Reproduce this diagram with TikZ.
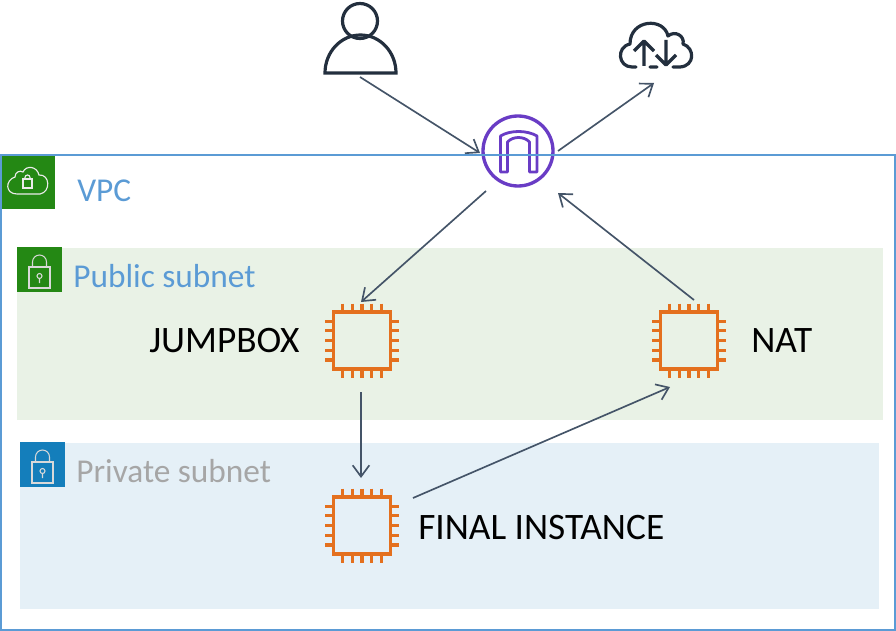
\documentclass[tikz,border=0pt]{standalone}
\usepackage{fontspec}
\setmainfont{Carlito}
\usetikzlibrary{arrows.meta}
\definecolor{vpcblue}{HTML}{5B9BD5}
\definecolor{vpcgreen}{HTML}{248814}
\definecolor{pubfill}{HTML}{E9F2E6}
\definecolor{privfill}{HTML}{E5F0F7}
\definecolor{privblue}{HTML}{147EBB}
\definecolor{chip}{HTML}{E4701E}
\definecolor{ink}{HTML}{232F3E}
\definecolor{arrowc}{HTML}{445468}
\definecolor{igwc}{HTML}{693CC5}
\tikzset{
  x=0.75pt,y=-0.75pt,
  conn/.style={draw=arrowc,line width=1.25pt,-{Straight Barb[length=8.5pt,width=12.5pt,line width=1.25pt]}},
  lab/.style={inner sep=0pt,anchor=west,font=\fontsize{28}{32}\selectfont},
  blab/.style={lab,text=vpcblue,font=\fontsize{25}{30}\selectfont},
  place/.style={inner sep=0pt,minimum size=1pt,draw=none},
  pics/chipicon/.style={code={
    \draw[chip,line width=2.5pt] (-28.5,-28.5) rectangle (28.5,28.5);
    \foreach \d in {-19.4,-9.7,0,9.7,19.4}{
      \draw[chip,line width=2.4pt] (\d,-37) -- (\d,-28.5) (\d,28.5) -- (\d,37)
                                   (-37,\d) -- (-28.5,\d) (28.5,\d) -- (37,\d);
    }
  }},
  pics/lockicon/.style={code={
    \draw[white!85!black,line width=.8pt] (-10.5,-4) rectangle (10.5,17);
    \draw[white!85!black,line width=.8pt] (-7,-4) -- (-7,-9) arc[start angle=180,end angle=360,x radius=7,y radius=7] -- (7,-4);
    \draw[white!85!black,line width=.8pt] (0,5) circle[radius=2.5] (0,7.5) -- (0,12);
  }}
}
\begin{document}
\begin{tikzpicture}
\useasboundingbox (0,0) rectangle (896,631);
% subnets
\fill[pubfill] (17,248) rectangle (883,420);
\fill[privfill] (20,443) rectangle (879,609);
% squares
\fill[vpcgreen] (1,155) rectangle (55,209);
\fill[vpcgreen] (17,247) rectangle (62,292);
\fill[privblue] (20,442) rectangle (65,487);
% VPC cloud-lock glyph
\draw[white!92!black,line width=.85pt]
  (17,194) .. controls (5,194) and (5,180) .. (15,177) .. controls (15,172) and (20,170) .. (23,172)
  .. controls (26,165) and (37,166) .. (39,175) .. controls (50,174) and (51,192) .. (40,194) -- cycle;
\draw[white!92!black,line width=.85pt] (23,179) rectangle (32,188);
\draw[white!92!black,line width=.85pt] (25,179) -- (25,177.5) arc[start angle=180,end angle=360,x radius=2.5,y radius=2.5] -- (30,179);
\pic at (39.5,271) {lockicon};
\pic at (42.5,466) {lockicon};
% icons
\node[place] (user) at (360,40) {};
\draw[ink,line width=2.4pt] (360,21) circle[radius=17.5];
\draw[ink,line width=2.4pt,line join=miter] (325,73) -- (396,73) arc[start angle=0,end angle=-180,x radius=35.5,y radius=38] -- cycle;
\node[place] (cloud) at (655,46) {};
\draw[ink,line width=2.4pt,line cap=round,line join=round]
  (636,67) -- (632,67) .. controls (618,67) and (616,47) .. (630,44)
  .. controls (630,19) and (664,17) .. (668,36)
  .. controls (675,30) and (685,36) .. (683,44)
  .. controls (695,48) and (695,66) .. (680,67) -- (673,67) (650,67) -- (657,67);
\draw[ink,line width=2.4pt,line join=round] (644,66) -- (644,41) (634,51) -- (644,41) -- (654,51);
\draw[ink,line width=2.4pt,line join=round] (666,40) -- (666,65) (656,55) -- (666,65) -- (676,55);
\node[place] (igw) at (518,151) {};
\draw[igwc,line width=2.5pt] (igw) circle[radius=35];
\draw[igwc,line width=2.1pt,line join=round]
  (500.5,172) -- (500.5,136) .. controls (510,130) and (527,130) .. (537,136) -- (537,172) -- (529.5,172) -- (529.5,142)
  .. controls (524,136) and (513,136) .. (507.5,142) -- (507.5,172) -- cycle;
\node[place] (jump) at (362,340.5) {};
\pic at (jump) {chipicon};
\node[place] (nat) at (689,340.5) {};
\pic at (nat) {chipicon};
\node[place] (final) at (362,525.5) {};
\pic at (final) {chipicon};
% VPC border
\draw[vpcblue,line width=1.5pt] (1,155) rectangle (895,630);
% labels
\node[lab,blab] (vpclab) at (77,191) {VPC};
\node[lab,blab] (publab) at (73,276) {Public subnet};
\node[lab,blab,text=black!35] (privlab) at (76,471) {Private subnet};
\node[lab] (jumplab) at (149,341) {JUMPBOX};
\node[lab] (natlab) at (751,341) {NAT};
\node[lab] (finallab) at (418,528) {FINAL INSTANCE};
% connectors
\draw[conn] ([shift={(0,37)}]user.center) -- ([shift={(-38,2)}]igw.center);
\draw[conn] ([shift={(40,0)}]igw.center) -- ([shift={(-1,37)}]cloud.center);
\draw[conn] ([shift={(-32,40)}]igw.center) -- ([shift={(-1,-38.5)}]jump.center);
\draw[conn] ([shift={(5,-40.5)}]nat.center) -- ([shift={(40,42)}]igw.center);
\draw[conn] ([shift={(-1,51.5)}]jump.center) -- ([shift={(-1,-47.5)}]final.center);
\draw[conn] ([shift={(51,-27.5)}]final.center) -- ([shift={(-19,46.5)}]nat.center);
\end{tikzpicture}
\end{document}
